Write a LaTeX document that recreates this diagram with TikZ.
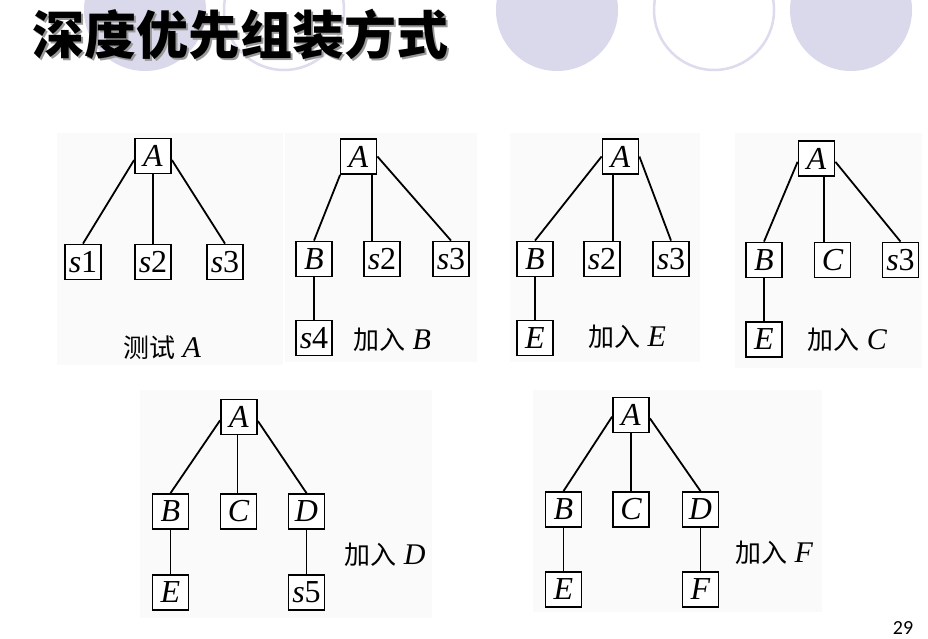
\documentclass[tikz,border=0pt]{standalone}
\usepackage{fontspec}
\setmainfont{Liberation Serif}
\newfontfamily\cjk{Noto Sans CJK SC}
\newfontfamily\numfont{Carlito}
\definecolor{lav}{RGB}{218,217,236}
\definecolor{lavline}{RGB}{221,219,238}
\definecolor{panel}{RGB}{250,250,250}
\tikzset{
  box/.style={draw=black, line width=1.8pt, fill=white, minimum width=36pt, minimum height=35pt, inner sep=1pt, font=\fontsize{32}{32}\selectfont},
  link/.style={line width=1.8pt},
  captxt/.style={font=\fontsize{30}{30}\selectfont, inner sep=0pt},
  bg/.style={fill=panel, draw=none},
  ttl/.style={font=\cjk\bfseries\fontsize{52}{52}\selectfont},
}
\newcommand{\zh}[1]{{\cjk\fontsize{26}{26}\selectfont #1}}
\begin{document}
\begin{tikzpicture}[x=1pt,y=-1pt]
\clip (0,0) rectangle (928,639);
\fill[white] (0,0) rectangle (928,639);
% decorative circles
\fill[lav] (145,10) circle (61);
\draw[lavline, line width=2.5pt] (284,10) circle (60);
\fill[lav] (557,10) circle (61);
\draw[lavline, line width=2.5pt] (714,10) circle (60);
\fill[lav] (851,10) circle (61);
% title with soft shadow
\node[ttl, text=black!40] (titleshadow) at (242,37) {深度优先组装方式};
\node[ttl, text=black] (title) at (240,35) {深度优先组装方式};
% page number
\node[font=\numfont\fontsize{20}{20}\selectfont] (pgno) at (903,628) {29};
% panels
\fill[bg] (57,133) rectangle (283,365);
\fill[bg] (285,133) rectangle (477,362);
\fill[bg] (510,133) rectangle (700,362);
\fill[bg] (735,133) rectangle (922,368);
\fill[bg] (140,390) rectangle (432,618);
\fill[bg] (533,390) rectangle (822,612);
% panel 1
\node[box] (a1) at (153,156) {\itshape A};
\node[box] (s11) at (83,262) {{\itshape s}1};
\node[box] (s21) at (153,262) {{\itshape s}2};
\node[box] (s31) at (225,262) {{\itshape s}3};
\node[captxt] (l1) at (162,348) {\zh{测试}\ \itshape A};
\draw[link] (a1.192) -- (s11.north);
\draw[link] (a1.south) -- (s21.north);
\draw[link] (a1.-12) -- (s31.north);
% panel 2
\node[box] (a2) at (358.5,156.5) {\itshape A};
\node[box] (b2) at (314,259) {\itshape B};
\node[box] (s22) at (382,259) {{\itshape s}2};
\node[box] (s32) at (451,259) {{\itshape s}3};
\node[box] (s42) at (314,338) {{\itshape s}4};
\node[captxt] (l2) at (392,340) {\zh{加入}\ \itshape B};
\draw[link] (a2.225) -- (b2.north);
\draw[link] ([xshift=13.5pt]a2.south) -- ([xshift=-10pt]s22.north);
\draw[link] (a2.east) -- (s32.north);
\draw[link] (b2.south) -- (s42.north);
% panel 3
\node[box] (a3) at (620.5,156.5) {\itshape A};
\node[box] (b3) at (535,259) {\itshape B};
\node[box] (s23) at (602,259) {{\itshape s}2};
\node[box] (s33) at (671,259) {{\itshape s}3};
\node[box] (e3) at (535,338) {\itshape E};
\node[captxt] (l3) at (627,337) {\zh{加入}\ \itshape E};
\draw[link] (a3.west) -- (b3.north);
\draw[link] ([xshift=-7.5pt]a3.south) -- ([xshift=11pt]s23.north);
\draw[link] (a3.east) -- (s33.north);
\draw[link] (b3.south) -- (e3.north);
% panel 4
\node[box] (a4) at (816.5,158.5) {\itshape A};
\node[box] (b4) at (764,260) {\itshape B};
\node[box] (c4) at (832.5,260) {\itshape C};
\node[box] (s34) at (900.5,260) {{\itshape s}3};
\node[box] (e4) at (764,339.5) {\itshape E};
\node[captxt] (l4) at (847,340) {\zh{加入}\ \itshape C};
\draw[link] (a4.190) -- (b4.north);
\draw[link] ([xshift=7.5pt]a4.south) -- ([xshift=-8.5pt]c4.north);
\draw[link] (a4.-10) -- (s34.north);
\draw[link] (b4.south) -- (e4.north);
% panel 5
\node[box] (a5) at (239,417) {\itshape A};
\node[box] (b5) at (170.5,511.5) {\itshape B};
\node[box] (c5) at (238.5,511.5) {\itshape C};
\node[box] (d5) at (306.5,511.5) {\itshape D};
\node[box] (e5) at (170.5,592.5) {\itshape E};
\node[box] (s55) at (306.5,592.5) {{\itshape s}5};
\node[captxt] (l5) at (385,555) {\zh{加入}\ \itshape D};
\draw[link] (a5.190) -- (b5.north);
\draw[link] ([xshift=-1.5pt]a5.south) -- ([xshift=-1pt]c5.north);
\draw[link] (a5.-12) -- (d5.north);
\draw[link] (b5.south) -- (e5.north);
\draw[link] (d5.south) -- (s55.north);
% panel 6
\node[box] (a6) at (631,415) {\itshape A};
\node[box] (b6) at (563.5,509.5) {\itshape B};
\node[box] (c6) at (631,509.5) {\itshape C};
\node[box] (d6) at (700.5,509.5) {\itshape D};
\node[box] (e6) at (563.5,589.5) {\itshape E};
\node[box] (f6) at (700.5,589.5) {\itshape F};
\node[captxt] (l6) at (774,553) {\zh{加入}\ \itshape F};
\draw[link] (a6.185) -- (b6.north);
\draw[link] (a6.south) -- (c6.north);
\draw[link] (a6.-10) -- (d6.north);
\draw[link] (b6.south) -- (e6.north);
\draw[link] (d6.south) -- (f6.north);
\end{tikzpicture}
\end{document}
